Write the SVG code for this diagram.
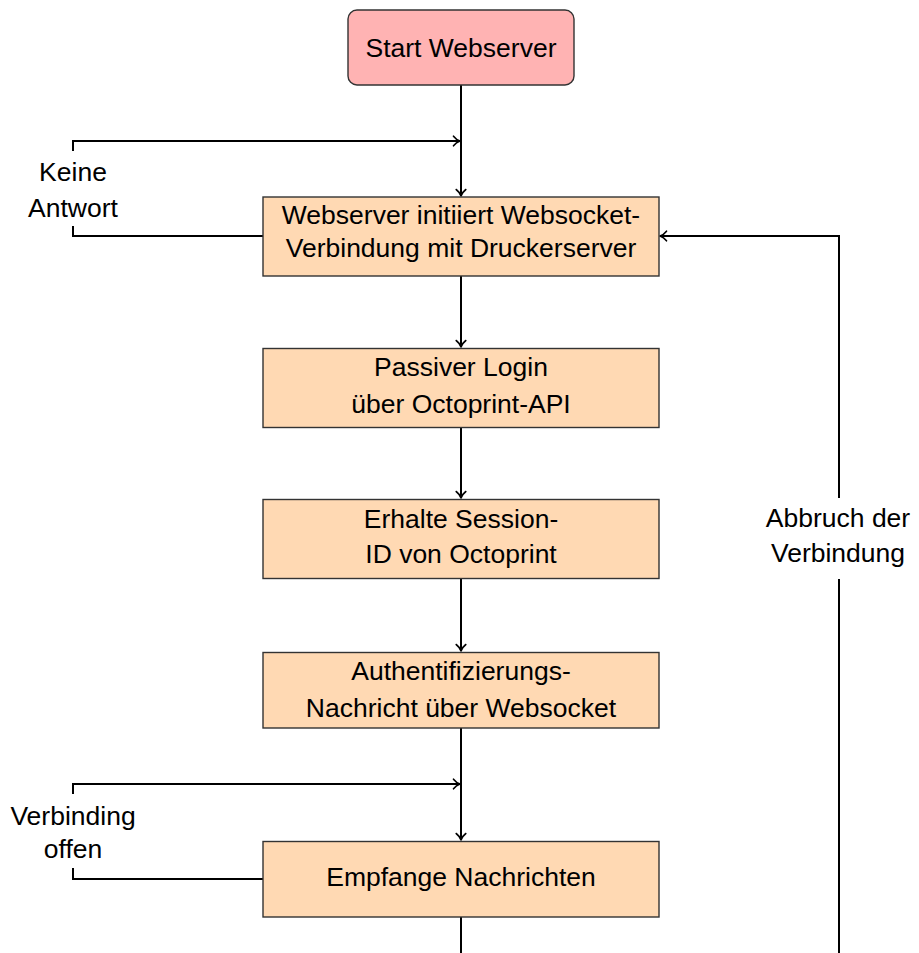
<svg xmlns="http://www.w3.org/2000/svg" width="919" height="953" viewBox="0 0 919 953">
  <defs>
    <marker id="tip" viewBox="-8 -6 10 12" markerWidth="10" markerHeight="12" refX="0" refY="0" orient="auto" markerUnits="userSpaceOnUse">
      <path d="M-6.5,-4.8 C-4.5,-2.2 -1.8,-0.6 0,0 C-1.8,0.6 -4.5,2.2 -6.5,4.8" fill="none" stroke="#000" stroke-width="1.6" stroke-linecap="round" stroke-linejoin="round"/>
    </marker>
  </defs>
  <style>
    text { font-family: "Liberation Sans", Arial, Helvetica, sans-serif; font-size: 26.5px; fill: #000; text-anchor: middle; }
    .step { fill: #ffd9b3; stroke: #333; stroke-width: 1.4; }
    .start { fill: #ffb3b3; stroke: #333; stroke-width: 1.4; }
    .edge { fill: none; stroke: #000; stroke-width: 2; }
    .arrow { marker-end: url(#tip); }
    .gap { fill: #fff; stroke: none; }
  </style>

  <rect width="919" height="953" fill="#fff"/>

  <!-- connectors -->
  <g id="connectors">
    <path class="edge arrow" d="M461,85 V196"/>
    <path class="edge arrow" d="M461,276 V347"/>
    <path class="edge arrow" d="M461,427 V498"/>
    <path class="edge arrow" d="M461,579 V651"/>
    <path class="edge arrow" d="M461,728 V840"/>
    <path class="edge" d="M461,917 V953"/>

    <!-- retry while no answer -->
    <path class="edge arrow" d="M263,236 H73 V141 H460"/>
    <rect class="gap" x="30" y="151" width="86" height="75"/>
    <text x="73" y="180.7">Keine</text>
    <text x="73" y="216.7">Antwort</text>

    <!-- keep receiving while the connection is open -->
    <path class="edge arrow" d="M263,879 H73 V784 H460"/>
    <rect class="gap" x="10" y="794" width="126" height="74"/>
    <text x="73" y="825">Verbinding</text>
    <text x="73" y="858">offen</text>

    <!-- reconnect after the connection drops -->
    <path class="edge arrow" d="M839,953 V236 H660"/>
    <rect class="gap" x="764" y="498" width="150" height="81"/>
    <text x="838" y="526.7">Abbruch der</text>
    <text x="838" y="561.7">Verbindung</text>
  </g>

  <!-- nodes -->
  <g id="start">
    <rect class="start" x="348" y="10" width="226" height="75" rx="9" ry="9"/>
    <text x="461" y="56.7">Start Webserver</text>
  </g>

  <g id="connect">
    <rect class="step" x="263" y="197" width="396" height="79"/>
    <text x="461" y="224.3">Webserver initiiert Websocket-</text>
    <text x="461" y="256.7">Verbindung mit Druckerserver</text>
  </g>

  <g id="login">
    <rect class="step" x="263" y="348.5" width="396" height="79"/>
    <text x="461" y="375.7">Passiver Login</text>
    <text x="461" y="412.7">über Octoprint-API</text>
  </g>

  <g id="session">
    <rect class="step" x="263" y="499.5" width="396" height="79"/>
    <text x="461" y="527.7">Erhalte Session-</text>
    <text x="461" y="563.3">ID von Octoprint</text>
  </g>

  <g id="auth">
    <rect class="step" x="263" y="652.5" width="396" height="75.5"/>
    <text x="461" y="680">Authentifizierungs-</text>
    <text x="461" y="717.3">Nachricht über Websocket</text>
  </g>

  <g id="receive">
    <rect class="step" x="263" y="841.5" width="396" height="75.5"/>
    <text x="461" y="886">Empfange Nachrichten</text>
  </g>
</svg>
